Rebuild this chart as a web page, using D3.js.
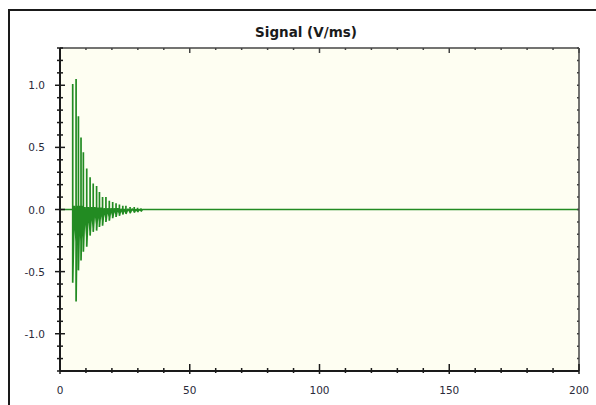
<!DOCTYPE html>
<html>
<head>
<meta charset="utf-8">
<script src="https://cdn.jsdelivr.net/npm/d3@7"></script>
<style>
	body { margin: 0; background: #fff; }
	svg { display: block; }
</style>
</head>
<body>
<div id="chart"></div>
<script>
// spikes of the damped signal (time in ms, value in V/ms)
var spikeT  = [4.9, 6.2, 7.1, 8.1, 9.0, 10.3, 11.6, 12.8, 14.1, 15.2, 16.4, 17.7, 19.0, 20.3, 21.6, 22.9, 24.2, 25.4, 27.0, 28.6, 29.9, 31.2];
var spikeHi = [1.01, 1.05, 0.75, 0.58, 0.46, 0.33, 0.26, 0.21, 0.19, 0.14, 0.10, 0.10, 0.07, 0.06, 0.05, 0.04, 0.03, 0.03, 0.02, 0.02, 0.015, 0.01];
var spikeLo = [-0.59, -0.74, -0.49, -0.41, -0.34, -0.30, -0.21, -0.18, -0.17, -0.14, -0.13, -0.10, -0.09, -0.07, -0.06, -0.05, -0.04, -0.035, -0.03, -0.025, -0.02, -0.015];
// small wiggle between one spike and the next: its top and its dip
var midT  = [5.5, 6.6, 7.6, 8.5, 9.6, 10.9, 12.2, 13.4, 14.6, 15.8, 17.0, 18.3, 19.6, 20.9, 22.2, 23.5, 24.8, 26.2, 27.8, 29.2, 30.5, 31.8];
var midHi = [0.03, 0.03, 0.03, 0.03, 0.02, 0.02, 0.02, 0.02, 0.015, 0.015, 0.01, 0.01, 0.01, 0.01, 0.01, 0.005, 0.005, 0.005, 0.005, 0, 0, 0];
var midLo = [-0.26, -0.27, -0.26, -0.24, -0.22, -0.18, -0.15, -0.12, -0.10, -0.09, -0.07, -0.06, -0.05, -0.04, -0.035, -0.03, -0.025, -0.02, -0.015, -0.01, -0.008, 0];

var xTicks = d3.range(0, 201, 10);
var xLabels = [0, 50, 100, 150, 200];
var yTicks = d3.range(-13, 14).map(function (d) { return d / 10; });
var yLabels = [-1.0, -0.5, 0.0, 0.5, 1.0];
var titleText = 'Signal (V/ms)';

var width = 596, height = 405;
var plot = { left: 60, right: 579, top: 48, bottom: 371 };

var svg = d3.select('#chart').append('svg')
	.attr('width', width)
	.attr('height', height);

// outer frame (runs past the right and bottom edge)
svg.append('rect')
	.attr('x', 9).attr('y', 10)
	.attr('width', 610).attr('height', 420)
	.attr('fill', '#fff')
	.attr('stroke', '#1a1a1a')
	.attr('stroke-width', 2);

svg.append('text')
	.attr('x', 306)
	.attr('y', 37)
	.attr('text-anchor', 'middle')
	.attr('font-family', 'DejaVu Sans')
	.attr('font-weight', 'bold')
	.attr('font-size', '13.5px')
	.attr('fill', '#1a1a1a')
	.text(titleText);

var x = d3.scaleLinear().domain([0, 200]).range([plot.left, plot.right]);
var y = d3.scaleLinear().domain([-1.3, 1.3]).range([plot.bottom, plot.top]);

svg.append('rect')
	.attr('x', plot.left).attr('y', plot.top)
	.attr('width', plot.right - plot.left)
	.attr('height', plot.bottom - plot.top)
	.attr('fill', '#fefef2');

// build the signal path: each spike goes straight up and down,
// then wiggles inside the band below zero before the next one
var pts = [[0, 0], [spikeT[0], 0]];
for (var i = 0; i < spikeT.length; i++) {
	pts.push([spikeT[i], spikeHi[i]]);
	pts.push([spikeT[i], spikeLo[i]]);
	pts.push([midT[i], midHi[i]]);
	var next = i + 1 < spikeT.length ? spikeT[i + 1] : midT[i] + 0.4;
	pts.push([next, midLo[i]]);
}
pts.push([spikeT[spikeT.length - 1] + 1.2, 0]);
pts.push([200, 0]);

var line = d3.line()
	.x(function (d) { return x(d[0]); })
	.y(function (d) { return y(d[1]); });

svg.append('path')
	.datum(pts)
	.attr('d', line)
	.attr('fill', 'none')
	.attr('stroke', '#228b22')
	.attr('stroke-width', 1.7)
	.attr('stroke-linejoin', 'bevel');

// plot box
var axisColor = '#1a1a1a';
svg.append('line')
	.attr('x1', plot.left).attr('x2', plot.right)
	.attr('y1', plot.top).attr('y2', plot.top)
	.attr('stroke', '#444').attr('stroke-width', 1.5);
svg.append('line')
	.attr('x1', plot.right).attr('x2', plot.right)
	.attr('y1', plot.top).attr('y2', plot.bottom)
	.attr('stroke', '#444').attr('stroke-width', 1.5);

// left axis: ticks cross the line
svg.selectAll('.ytick')
	.data(yTicks)
	.enter()
	.append('line')
	.attr('class', 'ytick')
	.attr('x1', function (d) { return Math.abs(Math.round(d * 10) % 5) === 0 ? plot.left - 5 : plot.left - 3; })
	.attr('x2', function (d) { return Math.abs(Math.round(d * 10) % 5) === 0 ? plot.left + 5 : plot.left + 3; })
	.attr('y1', function (d) { return y(d); })
	.attr('y2', function (d) { return y(d); })
	.attr('stroke', axisColor)
	.attr('stroke-width', 1.5);

// right axis: small inward ticks
svg.selectAll('.ytickr')
	.data(yTicks)
	.enter()
	.append('line')
	.attr('class', 'ytickr')
	.attr('x1', plot.right - 2)
	.attr('x2', plot.right)
	.attr('y1', function (d) { return y(d); })
	.attr('y2', function (d) { return y(d); })
	.attr('stroke', '#444')
	.attr('stroke-width', 1.5);

// bottom axis
svg.selectAll('.xtick')
	.data(xTicks)
	.enter()
	.append('line')
	.attr('class', 'xtick')
	.attr('x1', function (d) { return x(d); })
	.attr('x2', function (d) { return x(d); })
	.attr('y1', function (d) { return d % 50 === 0 ? plot.bottom - 7 : plot.bottom - 3; })
	.attr('y2', function (d) { return d % 50 === 0 ? plot.bottom + 3 : plot.bottom + 2; })
	.attr('stroke', axisColor)
	.attr('stroke-width', 1.5);

// top axis: inward ticks
svg.selectAll('.xtickt')
	.data(xTicks)
	.enter()
	.append('line')
	.attr('class', 'xtickt')
	.attr('x1', function (d) { return x(d); })
	.attr('x2', function (d) { return x(d); })
	.attr('y1', plot.top)
	.attr('y2', function (d) { return d % 50 === 0 ? plot.top + 5 : plot.top + 2; })
	.attr('stroke', '#444')
	.attr('stroke-width', 1.5);

svg.append('line')
	.attr('x1', plot.left).attr('x2', plot.left)
	.attr('y1', plot.top).attr('y2', plot.bottom)
	.attr('stroke', axisColor).attr('stroke-width', 2);
svg.append('line')
	.attr('x1', plot.left).attr('x2', plot.right)
	.attr('y1', plot.bottom).attr('y2', plot.bottom)
	.attr('stroke', axisColor).attr('stroke-width', 2);

svg.selectAll('.ylabel')
	.data(yLabels)
	.enter()
	.append('text')
	.attr('class', 'ylabel')
	.attr('x', 45)
	.attr('y', function (d) { return y(d) + 4; })
	.attr('text-anchor', 'end')
	.attr('font-family', 'DejaVu Sans')
	.attr('font-size', '10.5px')
	.attr('fill', '#2a2a3a')
	.text(function (d) { return d3.format('.1f')(d).replace('\u2212', '-'); });

svg.selectAll('.xlabel')
	.data(xLabels)
	.enter()
	.append('text')
	.attr('class', 'xlabel')
	.attr('x', function (d) { return x(d); })
	.attr('y', 394)
	.attr('text-anchor', 'middle')
	.attr('font-family', 'DejaVu Sans')
	.attr('font-size', '10.5px')
	.attr('fill', '#2a2a3a')
	.text(function (d) { return d; });
</script>
</body>
</html>
